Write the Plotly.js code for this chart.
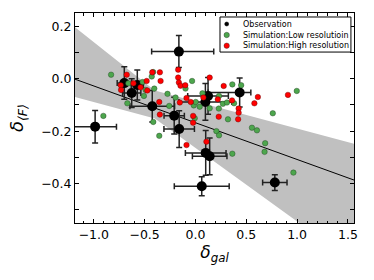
<!DOCTYPE html>
<html><head><meta charset="utf-8">
<script src="https://cdn.plot.ly/plotly-3.0.1.min.js"></script>
<style>html,body{margin:0;padding:0;background:#fff}#chart{width:374px;height:280px}</style>
</head><body><div id="chart"></div>
<script>
// Observations
const obsX = [-0.163, -0.987, -0.70, -0.627, -0.572, -0.425, -0.209, -0.16, 0.124, 0.098, 0.435, 0.101, 0.14, 0.062, 0.781];
const obsY = [0.103, -0.183, -0.017, -0.055, -0.024, -0.105, -0.141, -0.192, -0.066, -0.089, -0.053, -0.283, -0.296, -0.41, -0.396];
const obsXerrPlus  = [0.343, 0.21, 0.07, 0.09, 0.06, 0.22, 0.10, 0.15, 0.20, 0.26, 0.11, 0.20, 0.17, 0.27, 0.12];
const obsXerrMinus = [0.268, 0.21, 0.07, 0.09, 0.06, 0.22, 0.10, 0.15, 0.20, 0.26, 0.31, 0.20, 0.17, 0.27, 0.12];
const obsYerr = [0.061, 0.062, 0.062, 0.055, 0.057, 0.06, 0.07, 0.07, 0.07, 0.07, 0.055, 0.085, 0.07, 0.036, 0.03];

// Simulation: low resolution
const lowX = [-0.83, -0.906, -0.67, -0.66, -0.52, -0.507, -0.49, -0.43, -0.416, -0.405, -0.415, -0.356, -0.275, -0.258, -0.196, -0.098, -0.033, -0.016, -0.007, 0.003, 0.042, 0.069, 0.14, 0.206, 0.232, 0.232, 0.23, 0.27, 0.31, 0.32, 0.363, 0.38, 0.363, 0.45, 0.556, 0.605, 0.686, 0.68, 0.761, 0.964, 0.997];
const lowY = [0.015, -0.142, -0.094, -0.018, -0.013, -0.066, -0.043, 0.008, 0.025, -0.038, -0.165, -0.218, -0.058, -0.104, -0.072, -0.038, -0.009, -0.102, -0.151, -0.089, -0.107, -0.056, -0.113, -0.2, -0.066, -0.216, -0.114, -0.096, -0.091, -0.155, -0.022, -0.094, -0.286, -0.025, -0.187, -0.197, -0.246, -0.279, -0.132, -0.358, -0.047];

// Simulation: high resolution
const highX = [-0.735, -0.732, -0.676, -0.61, -0.54, -0.48, -0.474, -0.425, -0.35, -0.343, -0.356, -0.35, -0.17, -0.17, -0.163, -0.147, -0.1, -0.154, -0.088, -0.046, -0.023, -0.023, -0.088, 0.14, 0.108, 0.078, 0.22, 0.229, 0.278, 0.36, 0.425, 0.425, 0.42, 0.58, 0.614, 0.91];
const highY = [-0.025, -0.043, 0.015, -0.018, -0.033, -0.009, -0.045, 0.024, 0.024, -0.009, -0.089, -0.137, 0.034, 0.004, -0.015, -0.027, -0.025, -0.091, -0.074, -0.089, -0.142, -0.168, -0.253, 0.004, -0.24, -0.072, -0.079, -0.145, -0.028, -0.083, -0.114, -0.13, -0.155, -0.094, -0.07, -0.062];

// Fit line and shaded band (edge vertices)
const fitX = [-1.3, 1.7];
const fitY = [0.014, -0.406];
const bandX = [-1.3, -0.4, 1.7, 1.7, -0.4, -1.3, -1.3];
const bandY = [0.231, -0.045, -0.263, -0.74, -0.152, -0.058, 0.231];

const legendLabels = ['Observation', 'Simulation:Low resolutioin', 'Simulation:High resolution'];
const legendColors = ['#000000', 'rgb(77,166,77)', '#ff0000'];

const traces = [
  {x: bandX, y: bandY, type: 'scatter', mode: 'lines', fill: 'toself', fillcolor: '#c0c0c0',
   line: {width: 0, color: 'rgba(0,0,0,0)'}, hoverinfo: 'skip', showlegend: false},
  {x: fitX, y: fitY, type: 'scatter', mode: 'lines', line: {color: '#000', width: 1}, showlegend: false},
  {x: obsX, y: obsY, type: 'scatter', mode: 'markers', showlegend: false,
   marker: {color: '#000', size: 10},
   error_x: {type: 'data', symmetric: false, array: obsXerrPlus, arrayminus: obsXerrMinus, color: '#222', thickness: 1.5, width: 3},
   error_y: {type: 'data', array: obsYerr, color: '#222', thickness: 1.5, width: 3}},
  {x: lowX, y: lowY, type: 'scatter', mode: 'markers', showlegend: false,
   marker: {color: legendColors[1], size: 5.5, line: {color: 'rgba(30,60,30,0.8)', width: 0.5}}},
  {x: highX, y: highY, type: 'scatter', mode: 'markers', showlegend: false,
   marker: {color: legendColors[2], size: 5.5, line: {color: 'rgba(90,0,0,0.8)', width: 0.5}}}
];

const lx = 0.5437, tx = 0.5975;
const rowY = [0.9476, 0.8952, 0.8443];
const shapes = [{type: 'rect', xref: 'paper', yref: 'paper', x0: 0.5197, x1: 0.989, y0: 0.814, y1: 0.981,
  line: {color: '#000', width: 1}, fillcolor: '#fff', layer: 'above'}];
const annotations = [];
legendLabels.forEach((t, i) => {
  const r = i === 0 ? 2 : 2.7;
  shapes.push({type: 'circle', xref: 'paper', yref: 'paper', xsizemode: 'pixel', ysizemode: 'pixel',
    xanchor: lx, yanchor: rowY[i], x0: -r, x1: r, y0: -r, y1: r,
    fillcolor: legendColors[i], line: {color: i === 0 ? '#000' : 'rgba(40,40,40,0.8)', width: 0.5}, layer: 'above'});
  annotations.push({xref: 'paper', yref: 'paper', x: tx, y: rowY[i], xanchor: 'left', yanchor: 'middle',
    text: t, showarrow: false, font: {family: 'DejaVu Sans', size: 8, color: '#000'}, borderpad: 0});
});

const axisBase = {showline: true, linecolor: '#000', linewidth: 1, mirror: 'allticks', ticks: 'inside',
  ticklen: 4, tickcolor: '#000', tickwidth: 1, showgrid: false, zeroline: false, tickformat: '.1f',
  tickfont: {family: 'DejaVu Sans', size: 12.5, color: '#000'}};

const layout = {
  width: 374, height: 280,
  margin: {l: 75, r: 20, t: 13, b: 57, pad: 0},
  paper_bgcolor: '#fff', plot_bgcolor: '#fff',
  showlegend: false,
  font: {family: 'DejaVu Sans', color: '#000'},
  xaxis: Object.assign({}, axisBase, {range: [-1.185, 1.56], dtick: 0.5, tick0: 0, autorange: false,
    minor: {dtick: 0.1, ticks: 'inside', ticklen: 2.5, tickcolor: '#000', showgrid: false},
    title: {text: '<i>δ<sub>gal</sub></i>', font: {family: 'DejaVu Sans', size: 17, color: '#000'}, standoff: 3}}),
  yaxis: Object.assign({}, axisBase, {range: [-0.55, 0.25], dtick: 0.2, tick0: 0, autorange: false,
    minor: {dtick: 0.1, ticks: 'inside', ticklen: 4, tickcolor: '#000', showgrid: false},
    title: {text: '<i>δ<sub>⟨F⟩</sub></i>', font: {family: 'DejaVu Sans', size: 18, color: '#000'}, standoff: 12}}),
  shapes: shapes,
  annotations: annotations
};

Plotly.newPlot('chart', traces, layout, {displayModeBar: false, staticPlot: true});
</script>
</body></html>
